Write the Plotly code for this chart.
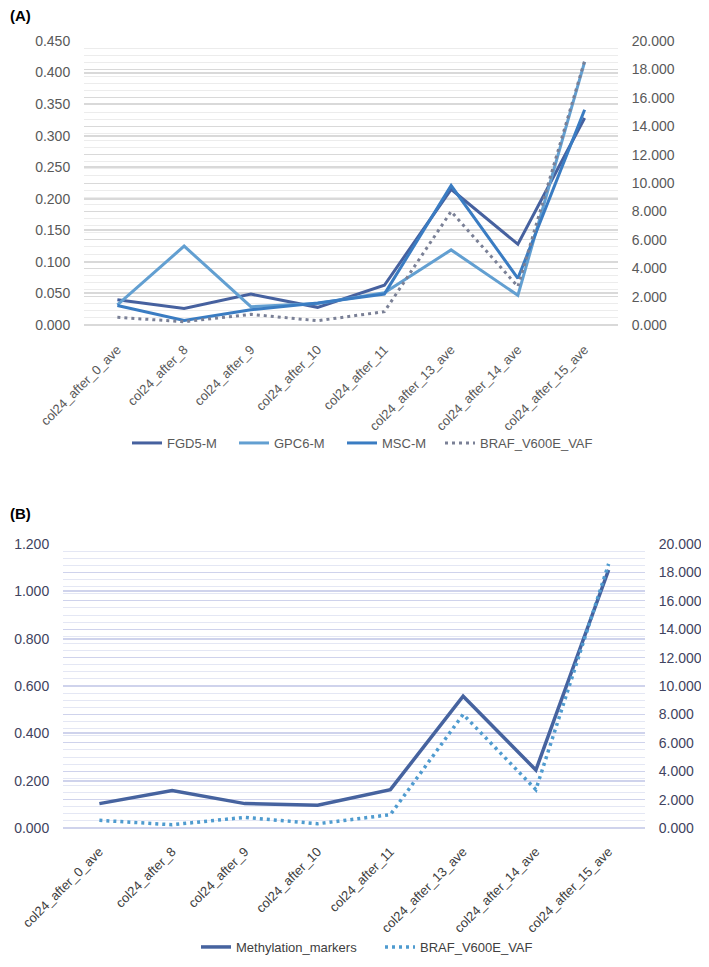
import plotly.graph_objects as go

categories = ["col24_after_0_ave", "col24_after_8", "col24_after_9", "col24_after_10",
              "col24_after_11", "col24_after_13_ave", "col24_after_14_ave", "col24_after_15_ave"]

fgd5_m = [0.040, 0.026, 0.049, 0.028, 0.063, 0.215, 0.128, 0.328]
gpc6_m = [0.032, 0.125, 0.029, 0.034, 0.051, 0.119, 0.047, 0.417]
msc_m = [0.031, 0.007, 0.024, 0.035, 0.049, 0.221, 0.074, 0.341]
braf_vaf = [0.54, 0.23, 0.75, 0.30, 0.94, 8.0, 2.7, 18.6]
methylation_markers = [0.103, 0.158, 0.103, 0.096, 0.162, 0.557, 0.245, 1.091]

# page has an 8px body margin; size the figure to fit inside the window
OFF = 8
W, H = 709 - 2 * OFF, 967 - 2 * OFF
FONT = "Liberation Sans, Arial, sans-serif"


def px_x(a, b):
    return [(a - OFF) / W, (b - OFF) / W]


def px_y(top, bottom):
    return [1 - (bottom - OFF) / H, 1 - (top - OFF) / H]


def fx(a):
    return (a - OFF) / W


def fy(a):
    return 1 - (a - OFF) / H


fig = go.Figure()

# Panel A
fig.add_trace(go.Scatter(x=categories, y=fgd5_m, name="FGD5-M", mode="lines", showlegend=True,
                         line=dict(color="#46619f", width=3), xaxis="x", yaxis="y", legend="legend"))
fig.add_trace(go.Scatter(x=categories, y=gpc6_m, name="GPC6-M", mode="lines", showlegend=True,
                         line=dict(color="#629fd1", width=3), xaxis="x", yaxis="y", legend="legend2"))
fig.add_trace(go.Scatter(x=categories, y=msc_m, name="MSC-M", mode="lines", showlegend=True,
                         line=dict(color="#3a7cc2", width=3), xaxis="x", yaxis="y", legend="legend3"))
fig.add_trace(go.Scatter(x=categories, y=braf_vaf, name="BRAF_V600E_VAF", mode="lines", showlegend=True,
                         line=dict(color="#7a8096", width=3, dash="3px,4px"),
                         xaxis="x", yaxis="y2", legend="legend4"))

# Panel B
fig.add_trace(go.Scatter(x=categories, y=methylation_markers, name="Methylation_markers", mode="lines",
                         showlegend=True,
                         line=dict(color="#46639f", width=3.5), xaxis="x2", yaxis="y3", legend="legend5"))
fig.add_trace(go.Scatter(x=categories, y=braf_vaf, name="BRAF_V600E_VAF", mode="lines", showlegend=True,
                         line=dict(color="#4f9bcf", width=3.5, dash="3px,4px"),
                         xaxis="x2", yaxis="y4", legend="legend6"))

tickfontA = dict(family=FONT, size=14, color="#595959")
catfontA = dict(family=FONT, size=13, color="#595959")
tickfontB = dict(family=FONT, size=14, color="#3f4360")
catfontB = dict(family=FONT, size=13, color="#404040")

gridA = "#d9d9d9"
minorA = "#ececec"
gridB = "#cfd3ec"
minorB = "#e4e7f4"


def leg(x_origin, y_mid, color):
    return dict(orientation="h", x=fx(x_origin), y=fy(y_mid), xanchor="left", yanchor="middle",
                font=dict(family=FONT, size=13, color=color), bgcolor="rgba(0,0,0,0)")


fig.update_layout(
    template="none",
    showlegend=True,
    width=W, height=H,
    margin=dict(l=0, r=0, t=0, b=0, autoexpand=False),
    paper_bgcolor="white", plot_bgcolor="white",
    font=dict(family=FONT),
    xaxis=dict(domain=px_x(84, 618), anchor="y", type="category", range=[-0.5, 7.5], automargin=False,
               showgrid=False, zeroline=False, showline=False, tickangle=-45,
               tickfont=catfontA, ticks="outside", ticklen=11, tickcolor="rgba(0,0,0,0)"),
    yaxis=dict(domain=px_y(41, 325), anchor="x", range=[0, 0.45], dtick=0.05, tickformat=".3f",
               automargin=False,
               showgrid=True, gridcolor=gridA, gridwidth=1.5, zeroline=True, zerolinecolor=gridA,
               zerolinewidth=1.5, showline=False, tickfont=tickfontA,
               ticks="outside", ticklen=10, tickcolor="rgba(0,0,0,0)"),
    yaxis2=dict(overlaying="y", anchor="x", side="right", range=[0, 20], dtick=2, tickformat=".3f",
                automargin=False,
                showgrid=True, gridcolor=gridA, gridwidth=1, zeroline=False, showline=False,
                minor=dict(dtick=0.5, showgrid=True, gridcolor=minorA, gridwidth=1),
                tickfont=tickfontA, ticks="outside", ticklen=10, tickcolor="rgba(0,0,0,0)"),
    xaxis2=dict(domain=px_x(63, 645), anchor="y3", type="category", range=[-0.5, 7.5], automargin=False,
                showgrid=False, zeroline=False, showline=False, tickangle=-45,
                tickfont=catfontB, ticks="outside", ticklen=10, tickcolor="rgba(0,0,0,0)"),
    yaxis3=dict(domain=px_y(544, 828), anchor="x2", range=[0, 1.2], dtick=0.2, tickformat=".3f",
                automargin=False,
                showgrid=True, gridcolor=gridB, gridwidth=1.5, zeroline=True, zerolinecolor=gridB,
                zerolinewidth=1.5, showline=False, tickfont=tickfontB,
                ticks="outside", ticklen=10, tickcolor="rgba(0,0,0,0)"),
    yaxis4=dict(overlaying="y3", anchor="x2", side="right", range=[0, 20], dtick=2, tickformat=".3f",
                automargin=False,
                showgrid=True, gridcolor=gridB, gridwidth=1, zeroline=False, showline=False,
                minor=dict(dtick=0.5, showgrid=True, gridcolor=minorB, gridwidth=1),
                tickfont=tickfontB, ticks="outside", ticklen=10, tickcolor="rgba(0,0,0,0)"),
    legend=leg(127, 443, "#595959"),
    legend2=leg(234, 443, "#595959"),
    legend3=leg(342, 443, "#595959"),
    legend4=leg(440, 443, "#595959"),
    legend5=leg(196, 947, "#404040"),
    legend6=leg(380, 947, "#404040"),
    annotations=[
        dict(text="<b>(A)</b>", x=fx(8), y=fy(16), xref="paper", yref="paper", xanchor="left",
             yanchor="middle", showarrow=False, font=dict(family=FONT, size=15, color="black")),
        dict(text="<b>(B)</b>", x=fx(8), y=fy(513), xref="paper", yref="paper", xanchor="left",
             yanchor="middle", showarrow=False, font=dict(family=FONT, size=15, color="black")),
    ],
)

fig.write_html("out.html")
